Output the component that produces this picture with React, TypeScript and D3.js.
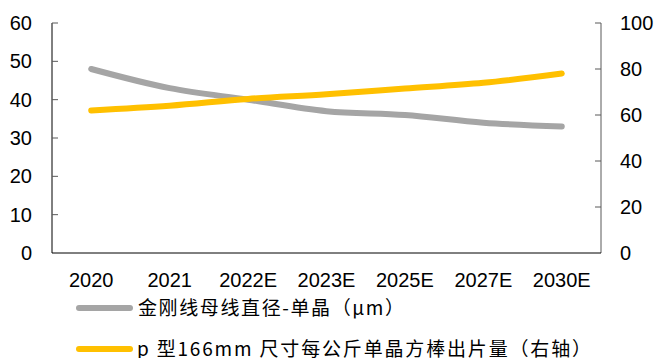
import React from "react";
import * as d3 from "d3";

const categories = ["2020", "2021", "2022E", "2023E", "2025E", "2027E", "2030E"];
const diameter = [48, 43, 40, 37, 36, 34, 33];
const yieldPerKg = [62, 64, 67, 69, 71.5, 74, 78];
const leftTicks = [0, 10, 20, 30, 40, 50, 60];
const rightTicks = [0, 20, 40, 60, 80, 100];
const seriesNames = ["金刚线母线直径-单晶（μm）", "p 型166mm 尺寸每公斤单晶方棒出片量（右轴）"];

const W = 656, H = 358;
const L = 52, R = 601, T = 23, B = 253;

export default function App() {
  const x = d3.scaleBand().domain(categories).range([L, R]);
  const yL = d3.scaleLinear().domain([0, 60]).range([B, T]);
  const yR = d3.scaleLinear().domain([0, 100]).range([B, T]);
  const cx = (c: string) => (x(c) as number) + x.bandwidth() / 2;
  const lineL = d3.line<number>().x((_, i) => cx(categories[i])).y((d) => yL(d)).curve(d3.curveMonotoneX);
  const lineR = d3.line<number>().x((_, i) => cx(categories[i])).y((d) => yR(d)).curve(d3.curveMonotoneX);
  const font = "'Liberation Sans', Arial, sans-serif";
  const cjk = "'Noto Sans CJK SC', 'Liberation Sans', sans-serif";
  return (
    <svg width={W} height={H} style={{ position: "absolute", left: 0, top: 0, background: "#fff" }}>
      {/* left axis */}
      <line x1={L} x2={L} y1={T} y2={B} stroke="#000" strokeWidth={1} />
      {leftTicks.map((t) => (
        <g key={"l" + t}>
          {t > 0 && <line x1={L} x2={L + 6} y1={yL(t)} y2={yL(t)} stroke="#595959" />}
          <text x={32} y={yL(t) + 7} textAnchor="end" fontSize={20} fontFamily={font} fill="#000">{t}</text>
        </g>
      ))}
      {/* right axis */}
      <line x1={R} x2={R} y1={T} y2={B} stroke="#595959" strokeWidth={1} />
      {rightTicks.map((t) => (
        <g key={"r" + t}>
          {t > 0 && <line x1={R - 6} x2={R} y1={yR(t)} y2={yR(t)} stroke="#595959" />}
          <text x={620} y={yR(t) + 7} textAnchor="start" fontSize={20} fontFamily={font} fill="#000">{t}</text>
        </g>
      ))}
      {/* bottom axis */}
      <line x1={L} x2={R} y1={B} y2={B} stroke="#000" strokeWidth={1} />
      {categories.map((c) => (
        <text key={c} x={cx(c)} y={287} textAnchor="middle" fontSize={20} fontFamily={font} fill="#000">{c}</text>
      ))}
      {/* lines */}
      <path d={lineL(diameter) || ""} fill="none" stroke="#A5A5A5" strokeWidth={6} strokeLinecap="round" />
      <path d={lineR(yieldPerKg) || ""} fill="none" stroke="#FFC000" strokeWidth={6} strokeLinecap="round" />
      {/* legend */}
      <line x1={79} x2={130} y1={308} y2={308} stroke="#A5A5A5" strokeWidth={6} strokeLinecap="round" />
      <text x={138} y={315} fontSize={19} fontFamily={cjk} fill="#000" textLength={266} lengthAdjust="spacing">{seriesNames[0]}</text>
      <line x1={79} x2={130} y1={349} y2={349} stroke="#FFC000" strokeWidth={6} strokeLinecap="round" />
      <text x={137} y={356} fontSize={19} fontFamily={cjk} fill="#000" textLength={454} lengthAdjust="spacing">{seriesNames[1]}</text>
    </svg>
  );
}
